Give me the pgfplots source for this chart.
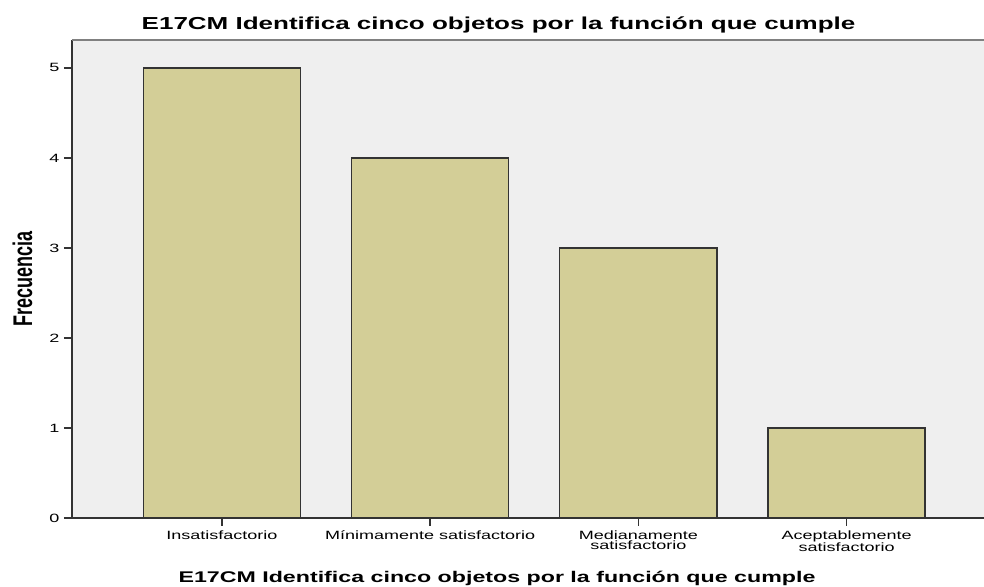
\documentclass[border=0pt]{standalone}
\usepackage{fontspec}
\setmainfont{Liberation Sans}
% the reference is stretched sideways, so the text is too
\newfontfamily\wide[FakeStretch=1.5]{Liberation Sans}
\newfontfamily\narrow[FakeStretch=0.6667]{Liberation Sans}
\usepackage{pgfplots}
\pgfplotsset{compat=1.18}
\definecolor{barfill}{HTML}{D3CE97}
\definecolor{panel}{HTML}{EFEFEF}

\begin{document}
\begin{tikzpicture}
\begin{axis}[
    width=684pt, height=358.5pt, scale only axis,
    xmin=-0.72, xmax=3.66, ymin=0, ymax=5.31,
    axis x line*=bottom, axis y line*=left,
    axis line style={-, line width=1.2pt, color=black!80},
    axis background/.style={fill=panel},
    ybar, bar width=0.755, bar shift=0pt,
    xtick={0,1,2,3},
    xticklabels={Insatisfactorio, Mínimamente satisfactorio, Medianamente\\satisfactorio, Aceptablemente\\satisfactorio},
    ytick={0,...,5},
    tick align=outside, major tick length=6pt,
    tick style={line width=1.2pt, color=black!80},
    /pgf/number format/assume math mode=true,
    xticklabel style={font=\wide\fontsize{9}{7.5}\selectfont, align=center},
    yticklabel style={font=\wide\fontsize{9}{10}\selectfont},
    title={E17CM Identifica cinco objetos por la función que cumple},
    % cancel the default 6pt lift of the title
    title style={font=\wide\bfseries\fontsize{13}{15}\selectfont, at={(axis description cs:0.4677,1.0209)}, anchor=base, yshift=-6pt},
    xlabel={E17CM Identifica cinco objetos por la función que cumple},
    xlabel style={font=\wide\bfseries\fontsize{11.6}{14}\selectfont, at={(axis description cs:0.466,-0.1354)}, anchor=base},
    ylabel={Frecuencia},
    ylabel style={font=\narrow\bfseries\fontsize{20.25}{22}\selectfont, at={(axis description cs:-0.0543,0.5)}, anchor=center},
]
\addplot[fill=barfill, draw=black!80, line width=1.1pt] coordinates {(0,5) (1,4) (2,3) (3,1)};
\draw[color=black!50, line width=1.2pt] (rel axis cs:0,1) -- (rel axis cs:1,1);
\coordinate (bl) at (rel axis cs:0,0);
\coordinate (tr) at (rel axis cs:1,1);
\end{axis}
\pgfresetboundingbox
\path ([shift={(-54pt,-51.75pt)}]bl) rectangle ([shift={(0pt,30pt)}]tr);
\end{tikzpicture}
\end{document}
